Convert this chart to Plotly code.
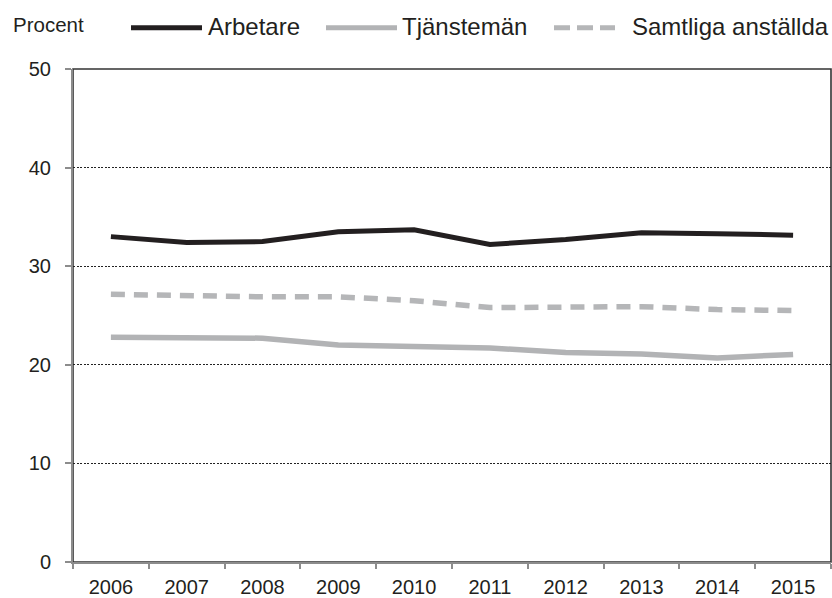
import plotly.graph_objects as go

years = ["2006", "2007", "2008", "2009", "2010", "2011", "2012", "2013", "2014", "2015"]
arbetare = [33.0, 32.4, 32.5, 33.5, 33.7, 32.2, 32.7, 33.4, 33.3, 33.15]
tjanstemän = [22.8, 22.75, 22.7, 22.0, 21.9, 21.7, 21.25, 21.1, 20.7, 21.05]
samtliga = [27.15, 27.0, 26.9, 26.9, 26.5, 25.8, 25.8, 25.9, 25.6, 25.5]
series_names = ["Arbetare", "Tjänstemän", "Samtliga anställda"]
y_ticks = [0, 10, 20, 30, 40, 50]

W, H = 832, 598
ML, MR, MT, MB = 73, 1, 69, 36
PW, PH = W - ML - MR, H - MT - MB

def px(x):
    return (x - ML) / PW

def py(y):
    return 1 - (y - MT) / PH

FONT = "Liberation Sans, Arial, sans-serif"
TXT = "#231f20"
C_ARB = "#231f20"
C_TJ = "#b2b3b5"
C_SAM = "#b5b6b8"

fig = go.Figure()
fig.add_trace(go.Scatter(x=years, y=arbetare, mode="lines", name=series_names[0],
                         line=dict(color=C_ARB, width=5), showlegend=False))
fig.add_trace(go.Scatter(x=years, y=tjanstemän, mode="lines", name=series_names[1],
                         line=dict(color=C_TJ, width=5.5), showlegend=False))
fig.add_trace(go.Scatter(x=years, y=samtliga, mode="lines", name=series_names[2],
                         line=dict(color=C_SAM, width=5.5, dash="14px,9px"), showlegend=False))

shapes = [
    dict(type="rect", xref="paper", yref="paper", x0=0, x1=1, y0=0, y1=1,
         line=dict(color="#333333", width=1.6), layer="below"),
]
# custom legend samples
leg_y = py(27.7)
shapes.append(dict(type="line", xref="paper", yref="paper", x0=px(131), x1=px(202),
                   y0=leg_y, y1=leg_y, line=dict(color=C_ARB, width=5)))
shapes.append(dict(type="line", xref="paper", yref="paper", x0=px(326), x1=px(397),
                   y0=leg_y, y1=leg_y, line=dict(color=C_TJ, width=5)))
shapes.append(dict(type="line", xref="paper", yref="paper", x0=px(554), x1=px(615),
                   y0=leg_y, y1=leg_y, line=dict(color=C_SAM, width=5, dash="16px,7px")))

annotations = [
    dict(text="Procent", xref="paper", yref="paper", x=px(11), y=py(24.5),
         xanchor="left", yanchor="middle", showarrow=False,
         font=dict(family=FONT, size=20.5, color=TXT)),
]
for name, xpos in zip(series_names, [206, 400, 630]):
    annotations.append(dict(text=name, xref="paper", yref="paper", x=px(xpos), y=py(27),
                            xanchor="left", yanchor="middle", showarrow=False,
                            font=dict(family=FONT, size=24, color=TXT)))

fig.update_layout(
    width=W, height=H,
    margin=dict(l=ML, r=MR, t=MT, b=MB, pad=0),
    paper_bgcolor="white", plot_bgcolor="white",
    font=dict(family=FONT, size=20, color=TXT),
    shapes=shapes, annotations=annotations,
    xaxis=dict(type="category", categoryorder="array", categoryarray=years,
               range=[-0.5, 9.5], tickson="boundaries", ticks="outside", ticklen=5,
               tickcolor="#8c8c8c", tickwidth=2, showline=True, linecolor="#8c8c8c",
               linewidth=2, showgrid=False, tickfont=dict(size=20, color=TXT),
               ticklabelstandoff=6, zeroline=False),
    yaxis=dict(range=[0, 50], tickvals=y_ticks, ticks="outside", ticklen=6,
               tickcolor="#8c8c8c", tickwidth=2, showline=True, linecolor="#8c8c8c",
               linewidth=2, showgrid=True, gridcolor="#222222", gridwidth=1,
               griddash="2px,1.5px", zeroline=False,
               tickfont=dict(size=20, color=TXT), ticklabelstandoff=10),
)

fig.write_html(
    "out.html",
    config={"displayModeBar": False},
    post_script="document.body.style.margin='0';document.body.style.overflow='hidden';",
)
